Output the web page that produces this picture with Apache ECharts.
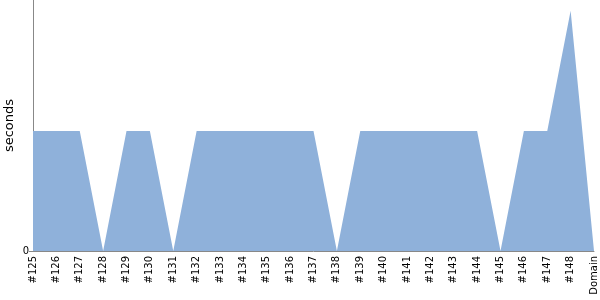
<!DOCTYPE html>
<html>
<head>
<meta charset="utf-8">
<script src="https://cdn.jsdelivr.net/npm/echarts@6/dist/echarts.min.js"></script>
<style>html,body{margin:0;padding:0;background:#fff}#c{width:600px;height:300px}</style>
</head>
<body>
<div id="c"></div>
<script>
const categories = ['#125','#126','#127','#128','#129','#130','#131','#132','#133','#134','#135','#136','#137','#138','#139','#140','#141','#142','#143','#144','#145','#146','#147','#148','Domain'];
const durations = [1,1,1,0,1,1,0,1,1,1,1,1,1,0,1,1,1,1,1,1,0,1,1,2,0];
const yTicks = [0];
const yAxisName = 'seconds';

const chart = echarts.init(document.getElementById('c'), null, {renderer:'canvas'});
chart.setOption({
  animation: false,
  grid: {left: 33, right: 6, top: 0, bottom: 49, containLabel: false, outerBoundsMode: 'none'},
  xAxis: {
    type: 'category',
    data: categories,
    boundaryGap: false,
    axisLine: {lineStyle: {color: '#888', width: 1}},
    axisTick: {show: false},
    axisLabel: {rotate: 90, interval: 0, fontFamily: 'DejaVu Sans', fontSize: 10, color: '#000', margin: 5, hideOverlap: false}
  },
  yAxis: {
    type: 'value',
    min: 0,
    max: 2.09,
    name: yAxisName,
    nameLocation: 'middle',
    nameGap: 17,
    nameMoveOverlap: false,
    nameTextStyle: {fontFamily: 'DejaVu Sans', fontSize: 13, color: '#000'},
    splitLine: {show: false},
    axisLine: {show: true, lineStyle: {color: '#888', width: 1}},
    axisTick: {show: true, length: 4, lineStyle: {color: '#888'}, customValues: yTicks},
    axisLabel: {fontFamily: 'DejaVu Sans', fontSize: 10, color: '#000', margin: 4, customValues: yTicks}
  },
  series: [{
    type: 'line',
    data: durations,
    showSymbol: false,
    symbol: 'none',
    lineStyle: {width: 0},
    areaStyle: {color: '#8fb1da', opacity: 1}
  }]
});
</script>
</body>
</html>
